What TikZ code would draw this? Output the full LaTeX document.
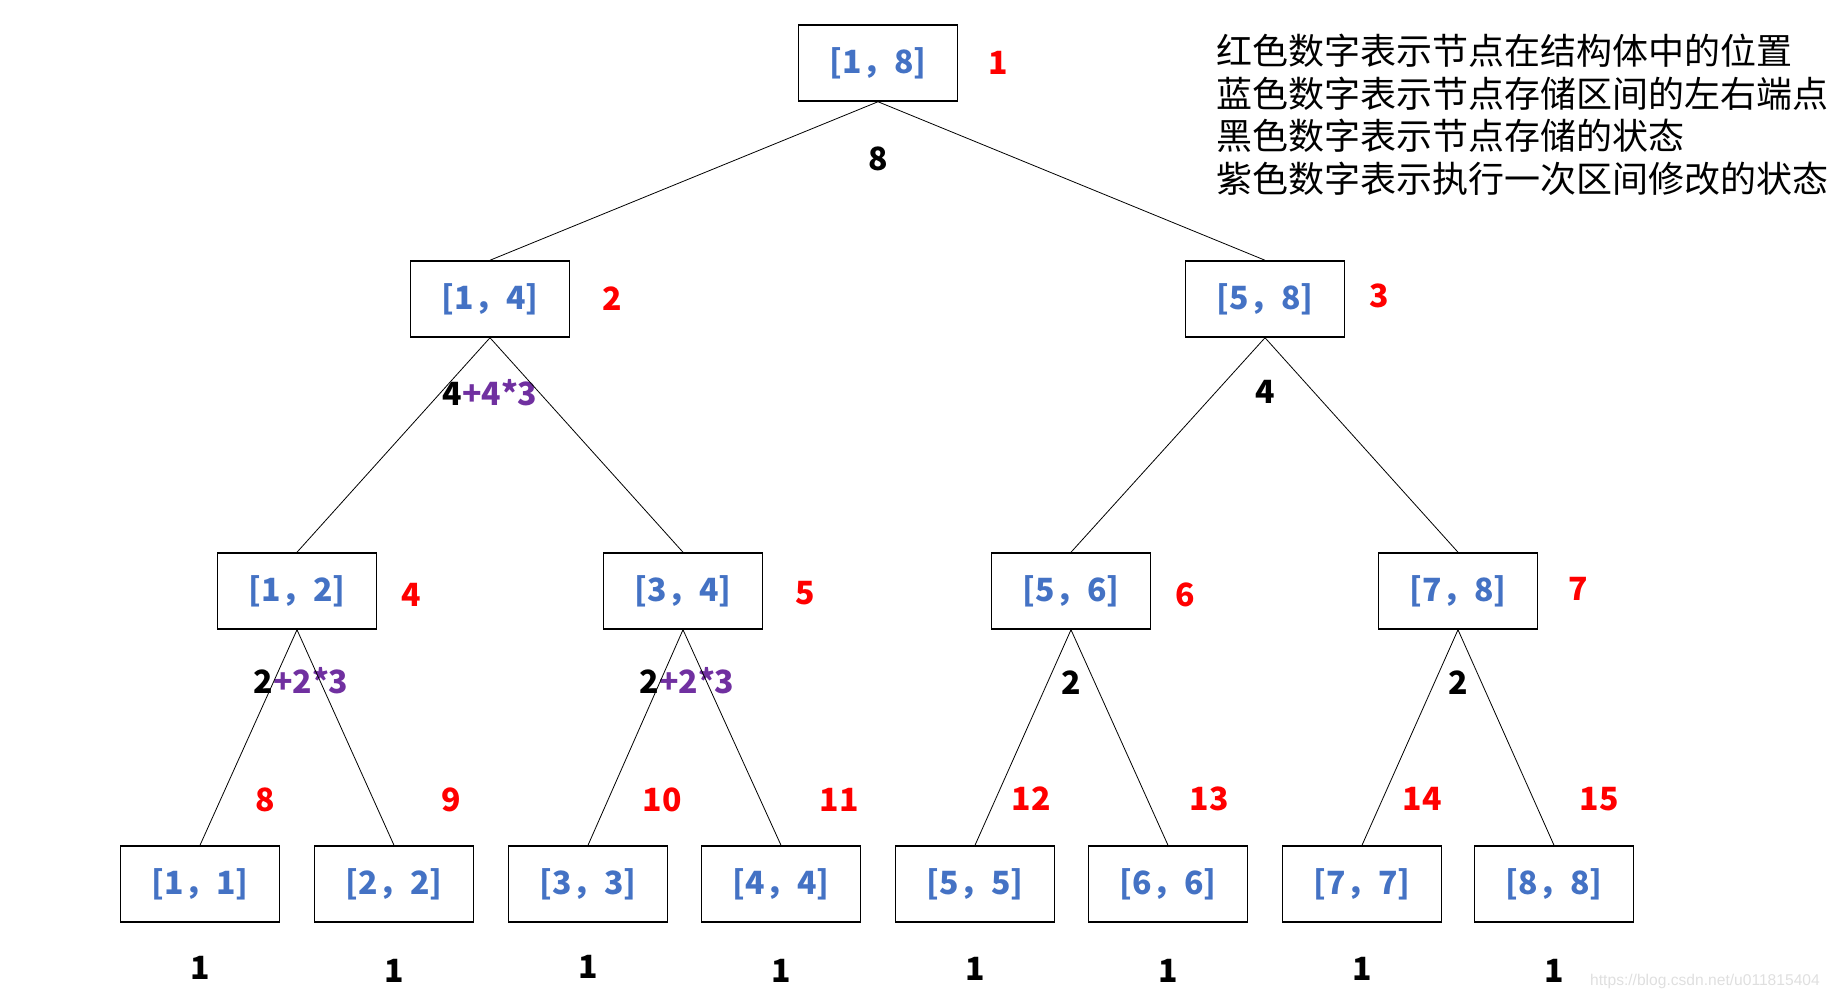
\documentclass[tikz,border=0pt]{standalone}
\usepackage{fontspec}
\setmainfont{Noto Sans CJK SC}
\newfontfamily\urlfont{Liberation Sans}
\usetikzlibrary{positioning}
\definecolor{segblue}{HTML}{4472C4}
\definecolor{segred}{HTML}{FF0000}
\definecolor{segpurple}{HTML}{7030A0}

\begin{document}
\begin{tikzpicture}[x=0.5pt,y=-0.5pt,thin,
    seg node/.style={rectangle,draw,line width=0.75pt,minimum width=79.5pt,minimum height=38pt,inner sep=0pt,text=segblue,font=\fontsize{16}{16}\selectfont\bfseries},
    idx/.style={text=segred,inner sep=0pt,font=\fontsize{16}{16}\selectfont\bfseries},
    val/.style={inner sep=0pt,font=\fontsize{16}{16}\selectfont\bfseries},
    note/.style={inner sep=0pt,align=left,anchor=north west,font=\fontsize{18}{21.25}\selectfont}]

  \useasboundingbox (0,0) rectangle (1833,999);

  % intervals
  \node[seg node] (r) at (878,63) {[1，8]};
  \node[seg node] (a) at (490,299) {[1，4]};
  \node[seg node] (b) at (1265,299) {[5，8]};
  \node[seg node] (c) at (297,591) {[1，2]};
  \node[seg node] (d) at (683,591) {[3，4]};
  \node[seg node] (e) at (1071,591) {[5，6]};
  \node[seg node] (f) at (1458,591) {[7，8]};
  \node[seg node] (l1) at (200,884) {[1，1]};
  \node[seg node] (l2) at (394,884) {[2，2]};
  \node[seg node] (l3) at (588,884) {[3，3]};
  \node[seg node] (l4) at (781,884) {[4，4]};
  \node[seg node] (l5) at (975,884) {[5，5]};
  \node[seg node] (l6) at (1168,884) {[6，6]};
  \node[seg node] (l7) at (1362,884) {[7，7]};
  \node[seg node] (l8) at (1554,884) {[8，8]};

  % positions in the array
  \node[idx] (i1) [right=15pt of r] {1};
  \node[idx] (i2) [right=16pt of a] {2};
  \node[idx] (i3) [right=12pt of b,yshift=1.5pt] {3};
  \node[idx] (i4) [right=12pt of c,yshift=-2pt] {4};
  \node[idx] (i5) [right=16pt of d,yshift=-1pt] {5};
  \node[idx] (i6) [right=12pt of e,yshift=-2pt] {6};
  \node[idx] (i7) [right=15pt of f,yshift=1pt] {7};
  \node[idx] (i8) at (265,800) {8};
  \node[idx] (i9) at (451,800) {9};
  \node[idx] (i10) at (662,800) {10};
  \node[idx] (i11) at (839,800) {11};
  \node[idx] (i12) at (1031,799) {12};
  \node[idx] (i13) at (1209,799) {13};
  \node[idx] (i14) at (1422,799) {14};
  \node[idx] (i15) at (1599,799) {15};

  % stored values
  \node[val] (v1) [below=22.5pt of r] {8};
  \node[val] (v2) [below=20.5pt of a] {4\textcolor{segpurple}{+4*3}};
  \node[val] (v3) [below=21pt of b] {4};
  \node[val] (v4) [below=18.5pt of c,xshift=2pt] {2\textcolor{segpurple}{+2*3}};
  \node[val] (v5) [below=18.5pt of d,xshift=2pt] {2\textcolor{segpurple}{+2*3}};
  \node[val] (v6) [below=20.5pt of e] {2};
  \node[val] (v7) [below=20.5pt of f] {2};
  \node[val] (w1) [below=16.5pt of l1] {1};
  \node[val] (w2) [below=18pt of l2] {1};
  \node[val] (w3) [below=16pt of l3] {1};
  \node[val] (w4) [below=18pt of l4] {1};
  \node[val] (w5) [below=17pt of l5] {1};
  \node[val] (w6) [below=18pt of l6] {1};
  \node[val] (w7) [below=17pt of l7] {1};
  \node[val] (w8) [below=18pt of l8] {1};

  \node[note] (key) at (1216,34) {红色数字表示节点在结构体中的位置\\
    蓝色数字表示节点存储区间的左右端点\\
    黑色数字表示节点存储的状态\\
    紫色数字表示执行一次区间修改的状态};
  \node[text=gray!25,inner sep=0pt,font=\urlfont\fontsize{7.8}{7.8}\selectfont] (mark) at (1705,981) {https://blog.csdn.net/u011815404};

  \path[]
    (r.south) edge (a.north)
    (r.south) edge (b.north)
    (a.south) edge (c.north)
    (a.south) edge (d.north)
    (b.south) edge (e.north)
    (b.south) edge (f.north)
    (c.south) edge (l1.north)
    (c.south) edge (l2.north)
    (d.south) edge (l3.north)
    (d.south) edge (l4.north)
    (e.south) edge (l5.north)
    (e.south) edge (l6.north)
    (f.south) edge (l7.north)
    (f.south) edge (l8.north);
\end{tikzpicture}
\end{document}
